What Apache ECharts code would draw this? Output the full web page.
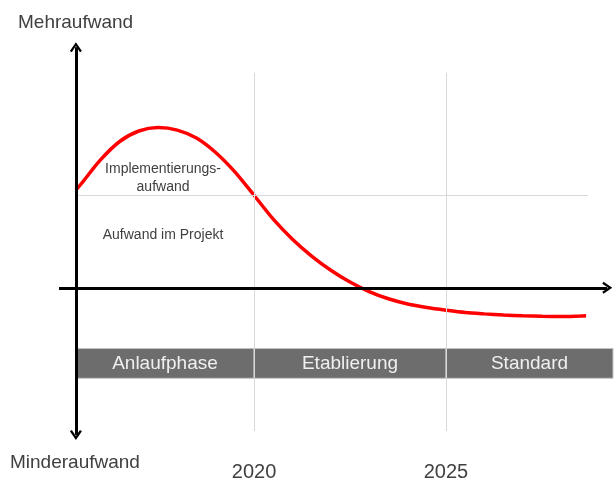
<!DOCTYPE html>
<html>
<head>
<meta charset="utf-8">
<script src="https://cdn.jsdelivr.net/npm/echarts@6/dist/echarts.min.js"></script>
<style>
  html, body { margin: 0; padding: 0; background: #fff; }
  #main { width: 614px; height: 482px; }
</style>
</head>
<body>
<div id="main"></div>
<script>
// curve (year, relative effort; 1 = Projekt-Niveau)
var years  = [2015.36, 2015.5, 2016, 2016.5, 2017, 2017.5, 2018, 2018.5, 2019, 2019.5,
              2020, 2020.5, 2021, 2021.5, 2022, 2022.5, 2023, 2023.5, 2024, 2024.5,
              2025, 2025.5, 2026, 2026.5, 2027, 2027.5, 2028, 2028.5, 2028.65];
var effort = [1.054, 1.124, 1.382, 1.581, 1.694, 1.731, 1.704, 1.618, 1.462, 1.253,
              1.0, 0.742, 0.525, 0.343, 0.190, 0.062, -0.041, -0.119, -0.175, -0.213,
              -0.242, -0.267, -0.282, -0.294, -0.302, -0.308, -0.310, -0.305, -0.303];
var tickYears = [2020, 2025];
var phases = ['Anlaufphase', 'Etablierung', 'Standard'];
var phaseBounds = [2015.36, 2020, 2025, 2029.35];
var projectLevel = 1;

var xMin = 2014.92, xMax = 2029.35;
var yMin = -1.645, yMax = 2.656;
var origin = years[0];
var chevron = 'path://M5,0 L10,8 L8.4,9.2 L5,3.6 L1.6,9.2 L0,8 Z';
var textColor = '#404040';
var font = 'Liberation Sans, Arial, sans-serif';

var curve = years.map(function (y, i) { return [y, effort[i]]; });

var phaseAreas = phases.map(function (p, i) {
  return [
    { name: p, coord: [phaseBounds[i], -0.656] },
    { coord: [phaseBounds[i + 1], -0.978] }
  ];
});

var guideLines = tickYears.map(function (t) {
  return [{ coord: [t, 2.323] }, { coord: [t, -1.548] }];
});
guideLines.push([{ coord: [origin, projectLevel] }, { coord: [2028.7, projectLevel] }]);

var chart = echarts.init(document.getElementById('main'));
var option = {
  animation: false,
  grid: { left: 59, right: 1, top: 42, bottom: 40 },
  xAxis: {
    type: 'value',
    min: xMin,
    max: xMax,
    axisLine: { show: false },
    axisTick: { show: false },
    splitLine: { show: false },
    axisLabel: {
      customValues: tickYears,
      fontSize: 20,
      color: textColor,
      fontFamily: font,
      margin: 22,
      formatter: function (v) { return String(Math.round(v)); }
    }
  },
  yAxis: {
    type: 'value',
    min: yMin,
    max: yMax,
    show: false
  },
  graphic: [
    { type: 'text', left: 18, top: 13, style: { text: 'Mehraufwand', fontSize: 19, fill: textColor, fontFamily: font } },
    { type: 'text', left: 10, top: 453, style: { text: 'Minderaufwand', fontSize: 19, fill: textColor, fontFamily: font } }
  ],
  series: [
    {
      name: 'guides',
      type: 'line',
      data: [],
      z: 1,
      markLine: {
        silent: true,
        symbol: ['none', 'none'],
        label: { show: false },
        lineStyle: { color: '#d9d9d9', width: 1, type: 'solid' },
        data: guideLines
      }
    },
    {
      name: 'phases',
      type: 'line',
      data: [],
      z: 2,
      markArea: {
        silent: true,
        itemStyle: { color: '#6d6d6d', borderColor: '#c4c4c4', borderWidth: 1 },
        label: {
          show: true,
          position: 'inside',
          color: '#f0f0f0',
          fontSize: 19,
          fontFamily: font
        },
        data: phaseAreas
      }
    },
    {
      name: 'Aufwand',
      type: 'line',
      data: curve,
      smooth: 0.3,
      showSymbol: false,
      z: 4,
      lineStyle: { color: '#ff0000', width: 3.5 },
      markPoint: {
        silent: true,
        symbolSize: 0,
        label: {
          show: true,
          color: textColor,
          fontSize: 14,
          fontFamily: font,
          lineHeight: 18,
          align: 'center',
          formatter: '{b}'
        },
        data: [
          { name: 'Implementierungs-\naufwand', coord: [2017.63, 1.183] },
          { name: 'Aufwand im Projekt', coord: [2017.63, 0.57] }
        ]
      }
    },
    {
      name: 'axes',
      type: 'line',
      data: [],
      z: 3,
      markLine: {
        silent: true,
        symbol: ['none', chevron],
        symbolSize: [12, 10],
        label: { show: false },
        lineStyle: { color: '#000', width: 3, type: 'solid' },
        itemStyle: { color: '#000' },
        data: [
          [{ coord: [xMin, 0] }, { coord: [2029.2, 0] }],
          [{ coord: [origin, 0], symbol: 'none' }, { coord: [origin, 2.60] }],
          [{ coord: [origin, 0], symbol: 'none' }, { coord: [origin, -1.59] }]
        ]
      }
    }
  ]
};
chart.setOption(option);
</script>
</body>
</html>
